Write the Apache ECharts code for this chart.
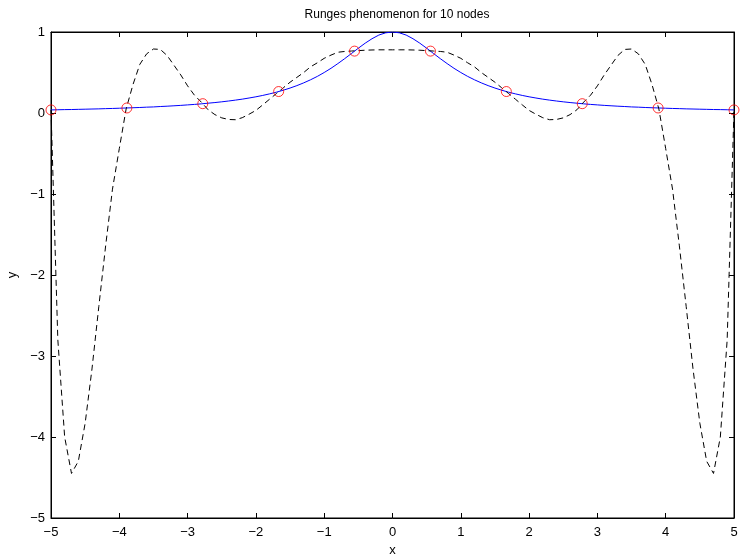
<!DOCTYPE html>
<html>
<head>
<meta charset="utf-8">
<script src="https://cdn.jsdelivr.net/npm/echarts@6/dist/echarts.min.js"></script>
<style>
html,body{margin:0;padding:0;background:#fff;}
#chart{width:740px;height:556px;}
</style>
</head>
<body>
<div id="chart"></div>
<script>
// sample x positions
var xs = [-5.0,-4.9,-4.8,-4.7,-4.6,-4.5,-4.4,-4.3,-4.2,-4.1,
          -4.0,-3.9,-3.8,-3.7,-3.6,-3.5,-3.4,-3.3,-3.2,-3.1,
          -3.0,-2.9,-2.8,-2.7,-2.6,-2.5,-2.4,-2.3,-2.2,-2.1,
          -2.0,-1.9,-1.8,-1.7,-1.6,-1.5,-1.4,-1.3,-1.2,-1.1,
          -1.0,-0.9,-0.8,-0.7,-0.6,-0.5,-0.4,-0.3,-0.2,-0.1,
           0.0,
           0.1, 0.2, 0.3, 0.4, 0.5, 0.6, 0.7, 0.8, 0.9, 1.0,
           1.1, 1.2, 1.3, 1.4, 1.5, 1.6, 1.7, 1.8, 1.9, 2.0,
           2.1, 2.2, 2.3, 2.4, 2.5, 2.6, 2.7, 2.8, 2.9, 3.0,
           3.1, 3.2, 3.3, 3.4, 3.5, 3.6, 3.7, 3.8, 3.9, 4.0,
           4.1, 4.2, 4.3, 4.4, 4.5, 4.6, 4.7, 4.8, 4.9, 5.0];

// blue curve values (the function)
var yFunc = [0.038,0.040,0.042,0.043,0.045,0.047,0.049,0.051,0.054,0.056,
             0.059,0.062,0.065,0.068,0.072,0.075,0.080,0.084,0.089,0.094,
             0.100,0.106,0.113,0.121,0.129,0.138,0.148,0.159,0.171,0.185,
             0.200,0.217,0.236,0.257,0.281,0.308,0.338,0.372,0.410,0.452,
             0.500,0.552,0.610,0.671,0.735,0.800,0.862,0.917,0.962,0.990,
             1.000,
             0.990,0.962,0.917,0.862,0.800,0.735,0.671,0.610,0.552,0.500,
             0.452,0.410,0.372,0.338,0.308,0.281,0.257,0.236,0.217,0.200,
             0.185,0.171,0.159,0.148,0.138,0.129,0.121,0.113,0.106,0.100,
             0.094,0.089,0.084,0.080,0.075,0.072,0.068,0.065,0.062,0.059,
             0.056,0.054,0.051,0.049,0.047,0.045,0.043,0.042,0.040,0.038];

// dashed interpolating polynomial values
var yPoly = [0.038,-2.80,-4.00,-4.45,-4.30,-3.83,-3.16,-2.39,-1.64,-0.94,
             -0.44,0.05,0.35,0.60,0.73,0.79,0.785,0.71,0.59,0.47,
             0.335,0.22,0.135,0.04,-0.02,-0.06,-0.08,-0.083,-0.058,-0.015,
             0.032,0.10,0.17,0.24,0.31,0.38,0.44,0.50,0.57,0.62,
             0.675,0.715,0.75,0.76,0.765,0.77,0.775,0.778,0.78,0.78,
             0.78,
             0.78,0.78,0.778,0.775,0.77,0.765,0.76,0.75,0.715,0.675,
             0.62,0.57,0.50,0.44,0.38,0.31,0.24,0.17,0.10,0.032,
             -0.015,-0.058,-0.083,-0.08,-0.06,-0.02,0.04,0.135,0.22,0.335,
             0.47,0.59,0.71,0.785,0.79,0.73,0.60,0.35,0.05,-0.44,
             -0.94,-1.64,-2.39,-3.16,-3.83,-4.30,-4.45,-4.00,-2.80,0.038];

// interpolation nodes
var xNodes = [-5,-3.889,-2.778,-1.667,-0.556,0.556,1.667,2.778,3.889,5];
var yNodes = [0.038,0.062,0.115,0.265,0.764,0.764,0.265,0.115,0.062,0.038];

var xTicks = [-5,-4,-3,-2,-1,0,1,2,3,4,5];
var yTicks = [-5,-4,-3,-2,-1,0,1];

function pairs(a,b){var r=[];for(var i=0;i<a.length;i++)r.push([a[i],b[i]]);return r;}
function fmt(v){return v<0 ? '\u2212'+(-v) : String(v);}

var FONT = '"Liberation Sans", Arial, Helvetica, sans-serif';
var chart = echarts.init(document.getElementById('chart'), null, {renderer:'canvas'});

var axCommon = {
  axisLine:{show:true, onZero:false, lineStyle:{color:'#000', width:1}},
  axisTick:{show:true, inside:true, length:5, lineStyle:{color:'#000', width:1}},
  splitLine:{show:false}
};

chart.setOption({
  animation:false,
  backgroundColor:'#fff',
  title:{
    text:'Runges phenomenon for 10 nodes',
    left:392, top:4, textAlign:'center',
    textStyle:{fontFamily:FONT, fontSize:12, fontWeight:'normal', color:'#000'}
  },
  grid:{left:51, right:6, top:32, bottom:38, show:true, borderColor:'#000', borderWidth:1,
        backgroundColor:'#fff', containLabel:false, outerBoundsMode:'none'},
  xAxis:[
    Object.assign({}, axCommon, {
      type:'value', position:'bottom', min:-5, max:5, interval:1,
      name:'x', nameLocation:'middle', nameGap:21,
      nameTextStyle:{fontFamily:FONT, fontSize:13, color:'#000'},
      axisLabel:{fontFamily:FONT, fontSize:13, color:'#000', margin:8, formatter:fmt}
    }),
    Object.assign({}, axCommon, {
      type:'value', position:'top', min:-5, max:5, interval:1,
      axisLabel:{show:false}
    })
  ],
  yAxis:[
    Object.assign({}, axCommon, {
      type:'value', position:'left', min:-5, max:1, interval:1,
      name:'y', nameLocation:'middle', nameGap:30, nameRotate:90,
      nameTextStyle:{fontFamily:FONT, fontSize:13, color:'#000'},
      axisLabel:{fontFamily:FONT, fontSize:13, color:'#000', margin:6, formatter:fmt}
    }),
    Object.assign({}, axCommon, {
      type:'value', position:'right', min:-5, max:1, interval:1,
      axisLabel:{show:false}
    })
  ],
  series:[
    {type:'line', data:pairs(xs,yFunc), showSymbol:false, symbol:'none',
     lineStyle:{color:'#0000ff', width:1}, z:2},
    {type:'line', data:pairs(xs,yPoly), showSymbol:false, symbol:'none',
     lineStyle:{color:'#000', width:1, type:[6,4]}, z:3},
    {type:'scatter', data:pairs(xNodes,yNodes), symbol:'circle', symbolSize:10,
     itemStyle:{color:'rgba(0,0,0,0)', borderColor:'#ff0000', borderWidth:1}, z:4}
  ]
});
</script>
</body>
</html>
